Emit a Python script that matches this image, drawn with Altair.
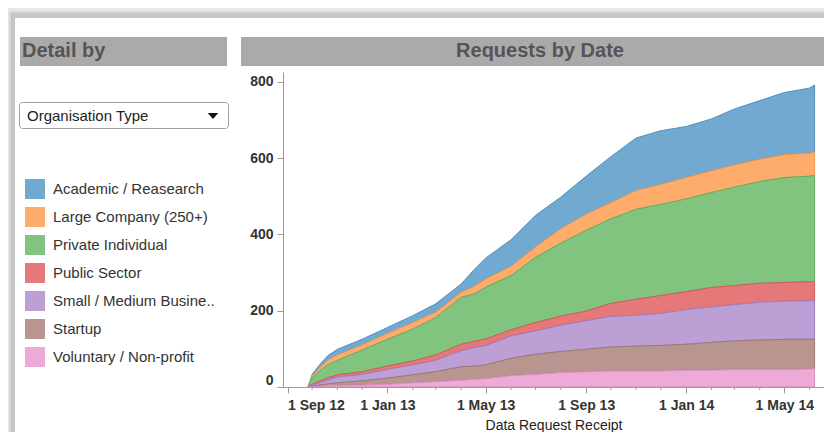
import altair as alt
import pandas as pd

# ---------------- data ----------------
dates = ["2012-09-26", "2012-10-01", "2012-10-10", "2012-10-20", "2012-11-01", "2012-12-01",
         "2013-01-01", "2013-02-01", "2013-03-01", "2013-04-01", "2013-04-18", "2013-05-01",
         "2013-06-01", "2013-07-01", "2013-08-01", "2013-09-01", "2013-10-01", "2013-11-01",
         "2013-12-01", "2014-01-01", "2014-02-01", "2014-03-01", "2014-04-01", "2014-05-01",
         "2014-06-01", "2014-06-07"]

categories = ["Academic / Reasearch", "Large Company (250+)", "Private Individual",
              "Public Sector", "Small / Medium Busine..", "Startup", "Voluntary / Non-profit"]

academic = [0, 5, 8, 12, 15, 15, 16, 18, 22, 22, 45, 55, 70, 83, 83, 100, 121, 138, 141, 134, 136, 147, 154, 163, 171, 176]
large_company = [0, 4, 8, 12, 14, 13, 15, 17, 14, 13, 20, 21, 24, 27, 38, 42, 42, 49, 52, 56, 57, 58, 58, 60, 60, 61]
private_individual = [0, 17, 27, 34, 38, 57, 70, 84, 98, 123, 125, 136, 142, 171, 191, 212, 222, 236, 239, 243, 249, 258, 267, 275, 277, 278]
public_sector = [0, 2, 4, 6, 6, 7, 9, 10, 14, 17, 16, 18, 16, 22, 24, 25, 34, 42, 47, 47, 51, 50, 50, 49, 50, 51]
small_medium = [0, 3, 6, 10, 15, 17, 23, 26, 30, 42, 49, 50, 59, 61, 69, 75, 80, 81, 84, 91, 93, 95, 99, 100, 101, 100]
startup = [0, 1, 3, 5, 7, 11, 16, 21, 26, 35, 35, 36, 45, 53, 55, 59, 63, 65, 67, 68, 73, 75, 77, 79, 78, 78]
voluntary = [0, 1, 2, 3, 4, 5, 7, 11, 14, 18, 20, 22, 30, 33, 38, 40, 42, 42, 42, 44, 44, 46, 46, 46, 47, 48]

series_values = [academic, large_company, private_individual, public_sector,
                 small_medium, startup, voluntary]

fill_colors = ["#72a9d0", "#fdac6b", "#80c47f", "#e57878", "#bb9fd5", "#b8968f", "#eeaad6"]
stroke_colors = ["#4f8fc0", "#f39a50", "#5fae5f", "#d45a5a", "#a07fc3", "#9c7a72", "#df8cc4"]

y_ticks = [0, 200, 400, 600, 800]
major_ticks = [(2012, 9, 1), (2013, 1, 1), (2013, 5, 1), (2013, 9, 1), (2014, 1, 1), (2014, 5, 1)]
minor_ticks = ["2012-10-01", "2012-11-01", "2012-12-01", "2013-02-01", "2013-03-01", "2013-04-01",
               "2013-06-01", "2013-07-01", "2013-08-01", "2013-10-01", "2013-11-01", "2013-12-01",
               "2014-02-01", "2014-03-01", "2014-04-01", "2014-06-01"]

# ---------------- tables ----------------
rows = []
for i, (cat, vals) in enumerate(zip(categories, series_values)):
    for d, v in zip(dates, vals):
        rows.append({"date": d + "T00:00:00", "org": cat, "count": v, "rank": len(categories) - i})
df = pd.DataFrame(rows)
minor_df = pd.DataFrame({"date": [d + "T00:00:00" for d in minor_ticks]})
one = pd.DataFrame({"k": [0]})

FONT = "Liberation Sans"
W, H = 541, 315

x_scale = alt.Scale(domain=[alt.DateTime(year=2012, month=8, date=26, hours=10),
                            alt.DateTime(year=2014, month=6, date=18, hours=12)], nice=False)
x_axis = alt.Axis(values=[alt.DateTime(year=a, month=b, date=c) for a, b, c in major_ticks],
                  format="%-d %b %y", title="Data Request Receipt", grid=False,
                  labelFlush=10, tickSize=6, labelPadding=5, zindex=1,
                  domainColor="#9a9a9a", tickColor="#9a9a9a",
                  labelFont=FONT, labelFontSize=14, labelFontWeight="bold", labelColor="#333333",
                  titleFont=FONT, titleFontSize=14, titleFontWeight="normal", titleColor="#222222",
                  titlePadding=6)

# ---------------- decoration helpers ----------------
def rect(x, x2, y, y2, fill, **kw):
    return alt.Chart(one).mark_rect(fill=fill, **kw).encode(
        x=alt.value(x), x2=alt.value(x2), y=alt.value(y), y2=alt.value(y2))

def label(txt, x, y, **kw):
    return alt.Chart(one).mark_text(text=txt, font=FONT, baseline="middle", **kw).encode(
        x=alt.value(x), y=alt.value(y))

# coordinates relative to plot origin (page x 283, page y 72)
frame_outer = rect(-275, W, -64, 360, "#e6e6e6")
frame_mid = rect(-274, W, -61, 360, "#d8d8d8")
frame_inner = rect(-272, W, -59, 360, "#c6c6c6")
panel = rect(-268, W, -54, 360, "#ffffff")
head_left = rect(-263, -56, -35, -6, "#aaaaaa")
head_right = rect(-42, W, -35, -6, "#aaaaaa")
head_left_txt = label("Detail by", -261, -21, align="left", fontSize=20, fontWeight="bold", color="#555555")
head_right_txt = label("Requests by Date", 257, -21, align="center", fontSize=20, fontWeight="bold", color="#555555")
dropdown = rect(-263.5, -54.5, 30.5, 56.5, "#ffffff", stroke="#a0a0a0", strokeWidth=1, cornerRadius=3)
dropdown_txt = label("Organisation Type", -256, 44, align="left", fontSize=15, color="#222222")
dropdown_arrow = alt.Chart(one).mark_point(
    shape="M-1,-0.55L1,-0.55L0,0.55Z", size=110, filled=True, color="#111111", opacity=1
).encode(x=alt.value(-70), y=alt.value(44))

# ---------------- the area chart ----------------
area = alt.Chart(df).mark_area(strokeWidth=1, opacity=1, interpolate="linear").encode(
    x=alt.X("date:T", scale=x_scale, axis=x_axis),
    y=alt.Y("count:Q", stack="zero", scale=alt.Scale(domain=[0, 826], nice=False),
            axis=alt.Axis(values=y_ticks, title=None, grid=False, tickSize=6, labelPadding=4, zindex=1,
                          labelFlush=5, domainColor="#9a9a9a", tickColor="#9a9a9a",
                          labelFont=FONT, labelFontSize=14, labelFontWeight="bold", labelColor="#333333")),
    fill=alt.Fill("org:N", scale=alt.Scale(domain=categories, range=fill_colors),
                  legend=alt.Legend(title=None, orient="none", legendX=-258, legendY=107,
                                    direction="vertical", symbolType="square", symbolSize=400,
                                    symbolStrokeWidth=0, symbolOpacity=1, labelFont=FONT,
                                    labelFontSize=15, labelColor="#333333", labelOffset=8,
                                    rowPadding=8, padding=0, labelLimit=300, zindex=1)),
    stroke=alt.Stroke("org:N", scale=alt.Scale(domain=categories, range=stroke_colors), legend=None),
    order=alt.Order("rank:Q", sort="ascending"),
)

minor = alt.Chart(minor_df).mark_rule(color="#9a9a9a", strokeWidth=1).encode(
    x=alt.X("date:T", scale=x_scale, axis=x_axis),
    y=alt.value(H), y2=alt.value(H + 3))

chart = alt.layer(
    frame_outer, frame_mid, frame_inner, panel, head_left, head_right, head_left_txt, head_right_txt,
    dropdown, dropdown_txt, dropdown_arrow, area, minor
).properties(width=W, height=H, padding=0, background="white").configure_view(stroke=None)

chart.save("out.html", embed_options={"renderer": "svg", "actions": False})
